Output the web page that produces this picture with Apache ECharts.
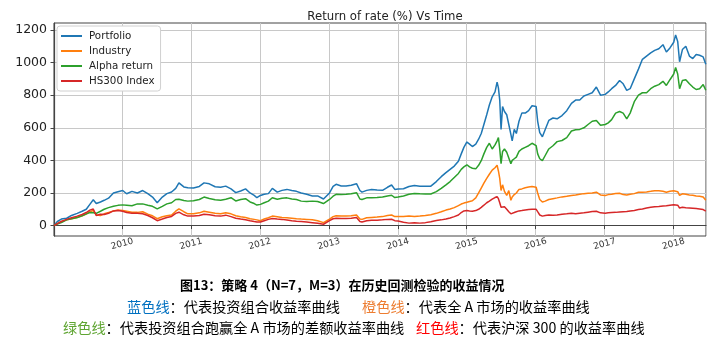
<!DOCTYPE html>
<html>
<head>
<meta charset="utf-8">
<script src="https://cdn.jsdelivr.net/npm/echarts@6/dist/echarts.min.js"></script>
<style>
  html, body { margin: 0; padding: 0; background: #fff; }
  #chart { width: 720px; height: 352px; }
</style>
</head>
<body>
<div id="chart"></div>
<script>
// sample dates (roughly every 3-4 weeks, denser around 2015)
const dates = [
  '2009-01-05','2009-01-23','2009-02-13','2009-03-13','2009-04-08','2009-05-08','2009-06-03','2009-06-25','2009-07-14','2009-08-01','2009-08-17','2009-09-08','2009-09-28','2009-10-21','2009-11-16','2009-12-10',
  '2010-01-04','2010-01-25','2010-02-22','2010-03-23','2010-04-20','2010-05-17','2010-06-11','2010-07-06','2010-08-02','2010-08-26','2010-09-20','2010-10-12','2010-10-29','2010-11-24','2010-12-15',
  '2011-01-14','2011-02-14','2011-03-11','2011-04-08','2011-05-09','2011-06-07','2011-07-04','2011-08-01','2011-08-26','2011-09-21','2011-10-17','2011-11-10','2011-12-02','2011-12-16',
  '2012-01-04','2012-01-24','2012-02-15','2012-03-07','2012-04-02','2012-04-27','2012-05-23','2012-06-18','2012-07-13','2012-08-07','2012-09-05','2012-10-05','2012-11-02','2012-12-03',
  '2013-01-04','2013-01-23','2013-02-08','2013-03-07','2013-04-02','2013-04-29','2013-05-27','2013-06-14','2013-06-25','2013-07-20','2013-08-15','2013-09-13','2013-10-12','2013-11-07','2013-11-29','2013-12-16',
  '2014-01-02','2014-01-31','2014-03-01','2014-03-30','2014-04-28','2014-05-27','2014-06-25','2014-07-24','2014-08-19','2014-09-13','2014-10-05','2014-10-27','2014-11-18','2014-12-03','2014-12-17',
  '2015-01-02','2015-01-16','2015-01-31','2015-02-18','2015-03-05','2015-03-19','2015-04-02','2015-04-17','2015-05-01','2015-05-16','2015-05-31','2015-06-11','2015-06-18','2015-06-25','2015-07-02','2015-07-10','2015-07-20','2015-08-01','2015-08-12','2015-08-23','2015-08-30','2015-09-10','2015-09-21','2015-10-05','2015-10-20','2015-11-07','2015-11-25','2015-12-13',
  '2016-01-04','2016-01-12','2016-01-23','2016-02-06','2016-02-21','2016-03-11','2016-04-02','2016-04-24','2016-05-20','2016-06-14','2016-07-09','2016-07-31','2016-08-22','2016-09-13','2016-10-05','2016-10-27','2016-11-18','2016-12-10',
  '2017-01-04','2017-01-20','2017-02-07','2017-02-28','2017-03-21','2017-04-09','2017-04-28','2017-05-16','2017-06-07','2017-06-29','2017-07-20','2017-08-11','2017-09-02','2017-09-23','2017-10-15','2017-11-06','2017-11-24','2017-12-13',
  '2018-01-02','2018-01-12','2018-01-23','2018-02-02','2018-02-17','2018-03-07','2018-03-26','2018-04-13','2018-05-01','2018-05-19','2018-06-07','2018-06-21'
];

const portfolio = [
  0,25,40,45,62,75,88,100,130,158,135,145,155,168,200,208,
  215,195,210,200,215,196,175,140,175,196,206,228,262,237,232,
  230,240,262,256,238,235,242,225,202,212,225,200,185,171,
  185,192,196,228,205,216,222,215,210,200,192,182,182,163,
  200,240,253,243,243,248,257,215,205,216,222,218,216,235,249,222,
  224,226,240,246,242,242,242,270,300,325,345,365,395,440,480,
  513,500,485,500,530,565,620,680,740,790,820,880,845,770,590,730,700,680,620,560,520,590,565,640,690,690,705,735,
  730,640,570,545,590,645,660,655,675,705,750,770,770,795,805,815,850,800,
  805,820,840,860,890,870,830,840,900,960,1020,1040,1060,1075,1085,1110,1065,1090,
  1125,1170,1130,1005,1080,1100,1040,1025,1050,1045,1035,990
];

const industry = [
  0,12,25,35,42,50,60,70,85,92,65,62,72,80,90,96,
  92,88,82,81,85,70,60,42,54,60,65,88,102,85,72,
  72,78,88,82,75,72,78,72,60,54,50,42,38,35,
  30,40,48,58,54,50,48,45,42,40,38,35,30,18,
  40,55,60,58,58,60,65,40,38,48,50,52,55,62,65,55,
  55,55,58,55,58,62,67,75,85,95,102,110,122,132,138,
  143,148,152,170,200,230,260,290,315,340,355,370,335,290,215,250,210,185,215,155,175,190,200,222,225,232,236,240,
  235,200,160,145,150,160,165,170,176,180,185,188,192,196,198,200,205,188,
  185,190,192,197,198,190,188,192,196,204,205,206,210,214,214,210,205,210,
  213,215,208,185,195,192,188,186,182,180,175,155
];

const alpha = [
  0,10,19,35,42,50,60,72,80,78,75,88,100,110,118,124,
  127,125,122,133,133,125,118,102,118,133,140,160,162,154,150,
  152,160,175,166,158,155,162,171,151,160,165,145,135,126,
  130,140,150,171,162,168,170,163,160,150,148,150,148,135,
  160,180,192,190,192,195,202,163,160,170,171,172,175,182,186,172,
  175,182,192,197,195,194,194,208,228,250,270,295,320,345,360,
  373,360,352,348,370,398,440,480,505,470,495,520,540,470,380,455,470,450,415,380,400,410,420,455,470,480,490,505,
  490,440,410,398,430,470,490,515,522,540,580,588,590,600,620,640,645,615,
  620,630,650,690,700,690,655,690,760,800,815,815,840,855,865,885,860,895,
  930,970,930,840,890,895,870,850,835,840,865,830
];

const hs300 = [
  0,12,25,38,48,58,68,80,95,102,62,70,68,75,90,92,
  88,80,75,75,72,62,48,30,40,50,56,75,82,66,58,
  58,62,70,66,60,58,64,55,45,40,36,30,25,22,
  22,30,38,43,40,38,34,30,27,25,22,18,14,8,
  30,42,45,44,43,45,49,25,22,30,33,33,35,38,39,30,
  28,20,15,18,15,18,24,31,35,40,46,55,65,80,90,
  92,90,88,92,100,112,125,140,150,162,172,178,165,140,112,122,115,100,85,72,78,80,85,90,92,95,98,100,
  100,85,65,58,62,65,63,65,70,72,75,72,76,78,82,86,88,78,
  76,78,80,81,84,85,86,90,93,98,102,108,112,115,117,120,122,125,
  128,135,125,108,112,110,108,106,104,102,98,88
];

const yTicks = [0, 200, 400, 600, 800, 1000, 1200];

const pair = arr => dates.map((d, i) => [d, arr[i]]);

const chart = echarts.init(document.getElementById('chart'));

const font = 'DejaVu Sans';
const cjk = '"Noto Sans CJK SC"';
const capFont = '14.2px ' + cjk;

chart.setOption({
  animation: false,
  color: ['#1f77b4', '#ff7f0e', '#2ca02c', '#d62728'],
  title: {
    text: 'Return of rate (%) Vs Time',
    left: 380,
    textAlign: 'center',
    top: 6,
    textStyle: { fontFamily: font, fontSize: 11.7, fontWeight: 'normal', color: '#222' }
  },
  legend: {
    orient: 'vertical',
    left: 57,
    top: 26,
    icon: 'rect',
    itemWidth: 21,
    itemHeight: 2,
    itemGap: 3,
    padding: [4, 6, 4, 4],
    backgroundColor: '#fff',
    borderColor: '#d0d0d0',
    borderWidth: 1,
    borderRadius: 3,
    textStyle: { fontFamily: font, fontSize: 10.3, lineHeight: 12, color: '#222', padding: [0, 0, 0, 2] },
    data: ['Portfolio', 'Industry', 'Alpha return', 'HS300 Index']
  },
  grid: {
    left: 54,
    right: 14,
    top: 23,
    bottom: 116,
    show: true,
    borderColor: '#444',
    borderWidth: 1
  },
  xAxis: {
    type: 'time',
    min: '2009-01-05',
    max: '2018-06-22',
    minInterval: 365 * 24 * 3600 * 1000,
    maxInterval: 366 * 24 * 3600 * 1000,
    axisLine: { lineStyle: { color: '#444', width: 1.2 } },
    axisTick: { show: true, length: 3.5, lineStyle: { color: '#444' } },
    splitLine: { show: true, lineStyle: { color: '#c8c8c8', width: 1 } },
    axisLabel: {
      rotate: 15,
      align: 'center',
      fontFamily: font,
      fontSize: 9,
      color: '#333',
      margin: 8,
      showMinLabel: false,
      showMaxLabel: false,
      formatter: function (v) {
        const d = new Date(v);
        return (d.getMonth() === 0 && d.getDate() === 1) ? String(d.getFullYear()) : '';
      }
    }
  },
  yAxis: {
    type: 'value',
    min: -64,
    max: 1243,
    axisLine: { show: true, lineStyle: { color: '#444', width: 1.2 } },
    axisTick: { show: true, length: 3.5, customValues: yTicks, lineStyle: { color: '#444' } },
    splitLine: { show: true, lineStyle: { color: '#c8c8c8', width: 1 } },
    axisLabel: {
      customValues: yTicks,
      formatter: v => String(v),
      fontFamily: font,
      fontSize: 12.5,
      color: '#222',
      margin: 7
    }
  },
  series: [
    { name: 'Portfolio', type: 'line', showSymbol: false, lineStyle: { width: 1.5 }, data: pair(portfolio) },
    { name: 'Industry', type: 'line', showSymbol: false, lineStyle: { width: 1.5 }, data: pair(industry) },
    { name: 'Alpha return', type: 'line', showSymbol: false, lineStyle: { width: 1.5 }, data: pair(alpha) },
    { name: 'HS300 Index', type: 'line', showSymbol: false, lineStyle: { width: 1.5 }, data: pair(hs300) }
  ],
  graphic: [
    {
      type: 'text', x: 180, y: 285,
      style: {
        text: '图13：策略 4（N=7，M=3）在历史回测检验的收益情况',
        font: 'bold 13px ' + cjk, fill: '#000', verticalAlign: 'middle'
      }
    },
    {
      type: 'text', x: 127, y: 307,
      style: {
        text: '{b|蓝色线}：代表投资组合收益率曲线',
        font: capFont, fill: '#000', verticalAlign: 'middle',
        rich: { b: { fill: '#0070c0', font: capFont } }
      }
    },
    {
      type: 'text', x: 362, y: 307,
      style: {
        text: '{o|橙色线}：代表全 A 市场的收益率曲线',
        font: capFont, fill: '#000', verticalAlign: 'middle',
        rich: { o: { fill: '#ed7d31', font: capFont } }
      }
    },
    {
      type: 'text', x: 63, y: 328,
      style: {
        text: '{g|绿色线}：代表投资组合跑赢全 A 市场的差额收益率曲线',
        font: capFont, fill: '#000', verticalAlign: 'middle',
        rich: { g: { fill: '#5fa532', font: capFont } }
      }
    },
    {
      type: 'text', x: 416, y: 328,
      style: {
        text: '{r|红色线}：代表沪深 300 的收益率曲线',
        font: capFont, fill: '#000', verticalAlign: 'middle',
        rich: { r: { fill: '#ff0000', font: capFont } }
      }
    }
  ]
});
</script>
</body>
</html>
